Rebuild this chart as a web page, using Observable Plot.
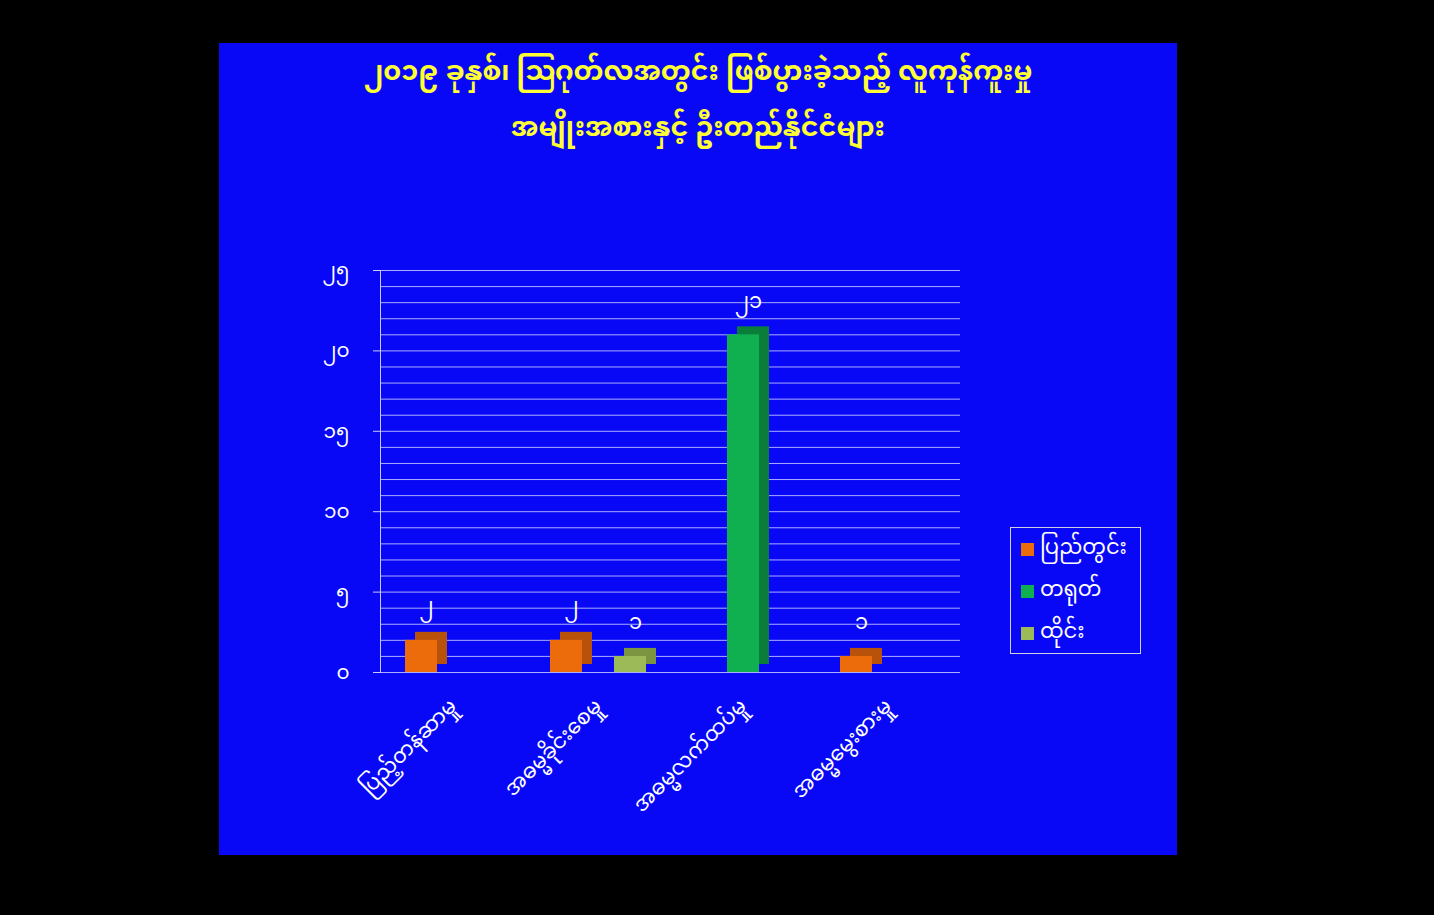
<!DOCTYPE html>
<html>
<head>
<meta charset="utf-8">
<script src="https://cdn.jsdelivr.net/npm/d3@7"></script>
<script src="https://cdn.jsdelivr.net/npm/@observablehq/plot@0.6"></script>
<style>
  html, body { margin: 0; padding: 0; background: #000; width: 1434px; height: 915px; overflow: hidden; }
  #panel { position: absolute; left: 219px; top: 43px; width: 958px; height: 812px; background: #0808f6; }
  .title { position: absolute; left: 219px; width: 958px; text-align: center; color: #ffff33; line-height: 40px;
           font-family: "Noto Sans Myanmar", "Padauk", "Myanmar Text", "Noto Sans", sans-serif; font-size: 27px; font-weight: bold; }
  #chart { position: absolute; left: 290px; top: 240px; }
  #legend { position: absolute; left: 1010px; top: 527px; width: 129px; height: 125px; border: 1px solid #d0d0e0;
            font-family: "Noto Sans Myanmar", "Padauk", "Myanmar Text", "Noto Sans", sans-serif; color: #fff; font-size: 21px; }
  #legend .item { position: absolute; left: 10px; height: 28px; line-height: 28px; display: flex; align-items: center; }
  #legend .sw { width: 13px; height: 13px; margin-right: 6px; }
</style>
</head>
<body>
<div id="panel"></div>
<div class="title" style="top:54px">၂၀၁၉ ခုနှစ်၊ ဩဂုတ်လအတွင်း ဖြစ်ပွားခဲ့သည့် လူကုန်ကူးမှု</div>
<div class="title" style="top:110px">အမျိုးအစားနှင့် ဦးတည်နိုင်ငံများ</div>
<div id="chart"></div>
<div id="legend"></div>
<script>
const categories = ["ပြည့်တန်ဆာမှု", "အဓမ္မခိုင်းစေမှု", "အဓမ္မလက်ထပ်မှု", "အဓမ္မမွေးစားမှု"];
const seriesNames = ["ပြည်တွင်း", "တရုတ်", "ထိုင်း"];
const domestic = [2, 2, 0, 1];
const china = [0, 0, 21, 0];
const thailand = [0, 1, 0, 0];
const yTicks = [0, 5, 10, 15, 20, 25];
const gridValues = d3.range(0, 26);

const colors = ["#ec6c0c", "#10b050", "#9cbb58"];
const sideColors = ["#b8520a", "#0a7d3a", "#7a9440"];

const seriesValues = [domestic, china, thailand];
const rows = [];
categories.forEach((c, i) => {
  seriesNames.forEach((s, j) => {
    const v = seriesValues[j][i];
    if (v > 0) rows.push({category: c, series: s, value: v});
  });
});

const mm = n => String(n).replace(/[0-9]/g, d => String.fromCharCode(0x1040 + +d));
const font = '"Noto Sans Myanmar", "Padauk", "Myanmar Text", "Noto Sans", sans-serif';

const chart = Plot.plot({
  width: 710,
  height: 622,
  marginLeft: 90,
  marginRight: 40,
  marginTop: 30,
  marginBottom: 190,
  style: {background: "transparent", color: "#fff", fontFamily: font, fontSize: "19px", overflow: "visible"},
  fx: {domain: categories, padding: 0, label: null, axis: null},
  x: {domain: seriesNames, paddingInner: 0, paddingOuter: 0.75, axis: null},
  y: {domain: [0, 25], label: null, axis: null},
  color: {domain: seriesNames, range: colors},
  marks: [
    Plot.ruleY(gridValues, {stroke: "#c9c9ff", strokeWidth: 1, strokeOpacity: 0.85}),
    Plot.frame({anchor: "left", facetAnchor: "left", stroke: "#c9c9ff"}),
    Plot.barY(rows, {fx: "category", x: "series", y: "value", fill: d => sideColors[seriesNames.indexOf(d.series)], dx: 10, dy: -8}),
    Plot.barY(rows, {fx: "category", x: "series", y: "value", fill: "series"}),
    Plot.text(rows, {fx: "category", x: "series", y: "value", text: d => mm(d.value), dx: 5, dy: -34, fill: "#fff", fontSize: 21}),
    Plot.axisY({ticks: yTicks, tickFormat: mm, stroke: "#c9c9ff", fill: "#fff", fontSize: 20, tickSize: 7, tickPadding: 24, label: null}),
    Plot.axisFx({anchor: "bottom", tickRotate: -45, fill: "#fff", fontSize: 21, label: null, tickSize: 0, tickPadding: 30})
  ]
});
document.getElementById("chart").appendChild(chart);

const legend = document.getElementById("legend");
seriesNames.forEach((s, i) => {
  const item = document.createElement("div");
  item.className = "item";
  item.style.top = (7 + i * 42) + "px";
  item.innerHTML = `<span class="sw" style="background:${colors[i]}"></span><span>${s}</span>`;
  legend.appendChild(item);
});
</script>
</body>
</html>
